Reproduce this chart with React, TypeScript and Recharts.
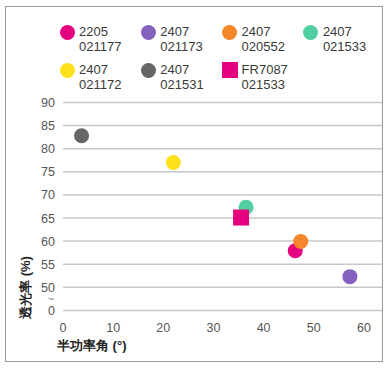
import React from 'react';
import { ScatterChart, Scatter, XAxis, YAxis, CartesianGrid, Label } from 'recharts';

const seriesNames = [
  ['2205', '021177'],
  ['2407', '021173'],
  ['2407', '020552'],
  ['2407', '021533'],
  ['2407', '021172'],
  ['2407', '021531'],
  ['FR7087', '021533'],
];
const seriesColors = ['#E4007F', '#8461BF', '#F5862A', '#52CFA0', '#FFE11A', '#666666', '#E4007F'];
const seriesShapes = ['circle', 'circle', 'circle', 'circle', 'circle', 'circle', 'square'];
const halfAngle = [46.3, 57.2, 47.4, 36.5, 22.0, 3.7, 35.5];
const transmittance = [57.9, 52.3, 59.9, 67.3, 77.0, 82.8, 65.1];

const xTicks = [0, 10, 20, 30, 40, 50, 60];
const yTicks = [45, 50, 55, 60, 65, 70, 75, 80, 85, 90];
const yTickLabels: Record<number, string> = { 45: '0' };

const FONT = '"Liberation Sans", Arial, sans-serif';

const Marker = (props: any) => {
  const { cx, cy, fill, kind } = props;
  if (kind === 'square') {
    return <rect x={cx - 8} y={cy - 8} width={16} height={16} fill={fill} />;
  }
  return <circle cx={cx} cy={cy} r={7.5} fill={fill} />;
};

const YTick = (props: any) => {
  const { x, y, payload } = props;
  const v = payload.value;
  const label = yTickLabels[v] ?? String(v);
  return (
    <g>
      <text x={x} y={y} dy={4.5} textAnchor="end" fontSize={12.5} fill="#555" fontFamily={FONT}>
        {label}
      </text>
      {v === 45 && (
        <text x={x - 4} y={y - 11} dy={4} textAnchor="middle" fontSize={11} fill="#777" fontFamily={FONT}>
          ~
        </text>
      )}
    </g>
  );
};

const XTick = (props: any) => {
  const { x, y, payload } = props;
  return (
    <text x={x} y={y} dy={14} textAnchor="middle" fontSize={12.5} fill="#555" fontFamily={FONT}>
      {payload.value}
    </text>
  );
};

export default function App() {
  return (
    <div style={{ position: 'absolute', left: 0, top: 0, width: 390, height: 368, background: '#fff', fontFamily: FONT }}>
      <div
        style={{
          position: 'absolute',
          left: 5,
          top: 6,
          width: 376,
          height: 354,
          border: '1.5px solid #9a9a9a',
        }}
      />
      {seriesNames.map((n, i) => {
        const col = i % 4;
        const row = Math.floor(i / 4);
        const cx = 67 + col * 81.3;
        const cy = 32 + row * 38;
        return (
          <div key={i}>
            {seriesShapes[i] === 'square' ? (
              <div style={{ position: 'absolute', left: cx - 8, top: cy - 8, width: 16, height: 16, background: seriesColors[i] }} />
            ) : (
              <div style={{ position: 'absolute', left: cx - 7.5, top: cy - 7.5, width: 15, height: 15, borderRadius: '50%', background: seriesColors[i] }} />
            )}
            <div
              style={{
                position: 'absolute',
                left: cx + 12,
                top: cy - 8,
                fontSize: 13,
                lineHeight: '15px',
                color: '#3a3a3a',
                fontFamily: FONT,
              }}
            >
              {n[0]}
              <br />
              {n[1]}
            </div>
          </div>
        );
      })}
      <div style={{ position: 'absolute', left: 0, top: 0 }}>
        <ScatterChart width={390} height={368} margin={{ top: 102.5, right: 8, bottom: 27.6, left: 0 }}>
          <CartesianGrid horizontal vertical={false} stroke="#c8c8c8" strokeWidth={1.5} />
          <XAxis
            type="number"
            dataKey="x"
            domain={[0, 63.6]}
            ticks={xTicks}
            axisLine={false}
            tickLine={false}
            height={30}
            tick={<XTick />}
            interval={0}
          >
            <Label
              content={(p: any) => (
                <text x={p.viewBox.x - 6} y={p.viewBox.y + 40} textAnchor="start" fontSize={13} fontWeight="bold" fill="#222" fontFamily={FONT}>
                  半功率角 (°)
                </text>
              )}
            />
          </XAxis>
          <YAxis
            type="number"
            dataKey="y"
            domain={[45, 90]}
            ticks={yTicks}
            axisLine={false}
            tickLine={false}
            width={63}
            tick={<YTick />}
            interval={0}
          >
            <Label
              content={(p: any) => {
                const cx = p.viewBox.x + 25;
                const cy = p.viewBox.y + 185;
                return (
                  <text x={cx} y={cy} transform={`rotate(-90 ${cx} ${cy})`} textAnchor="middle" dy={4.5} fontSize={13} fontWeight="bold" fill="#222" fontFamily={FONT}>
                    透光率 (%)
                  </text>
                );
              }}
            />
          </YAxis>
          {seriesNames.map((n, i) => (
            <Scatter
              key={i}
              name={n.join(' ')}
              data={[{ x: halfAngle[i], y: transmittance[i] }]}
              fill={seriesColors[i]}
              isAnimationActive={false}
              shape={(p: any) => <Marker {...p} fill={seriesColors[i]} kind={seriesShapes[i]} />}
            />
          ))}
        </ScatterChart>
      </div>
    </div>
  );
}
